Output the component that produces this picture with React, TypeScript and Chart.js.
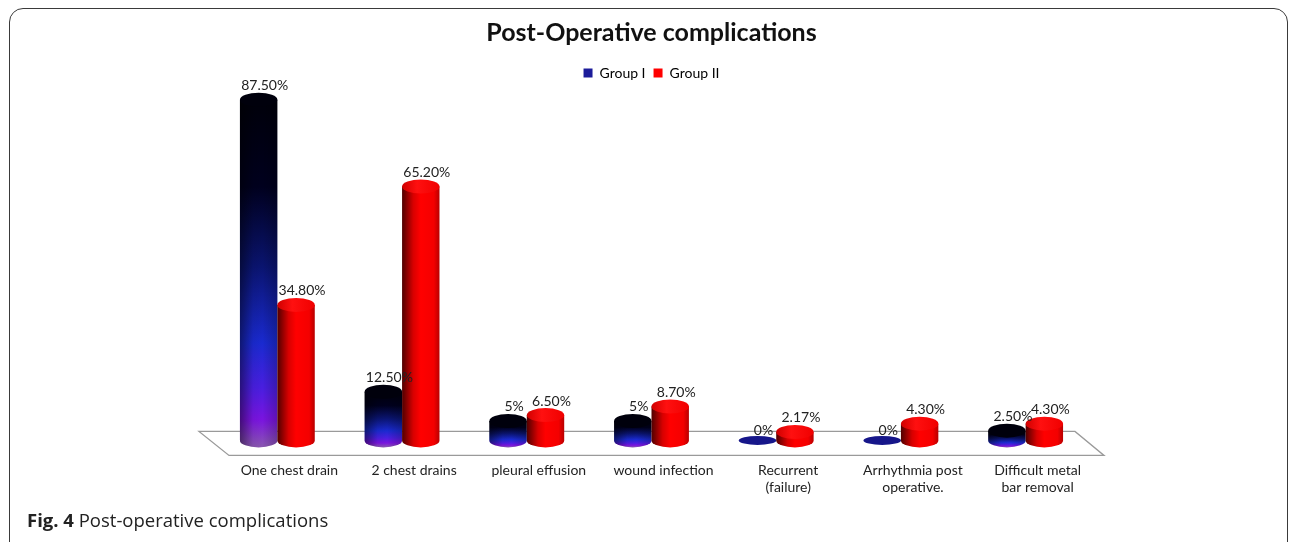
import React, { useEffect, useRef } from 'react';
import { Chart, registerables } from 'chart.js';

Chart.register(...registerables);

const categories: (string | string[])[] = [
  'One chest drain',
  '2 chest drains',
  'pleural effusion',
  'wound infection',
  ['Recurrent', '(failure)'],
  ['Arrhythmia post', 'operative.'],
  ['Difficult metal', 'bar removal'],
];
const groupI = [87.5, 12.5, 5, 5, 0, 0, 2.5];
const groupII = [34.8, 65.2, 6.5, 8.7, 2.17, 4.3, 4.3];
const groupILabels = ['87.50%', '12.50%', '5%', '5%', '0%', '0%', '2.50%'];
const groupIILabels = ['34.80%', '65.20%', '6.50%', '8.70%', '2.17%', '4.30%', '4.30%'];
const seriesNames = ['Group I', 'Group II'];

const FONT = 'Lato, "Open Sans", sans-serif';

function drawCylinder(ctx: CanvasRenderingContext2D, x: number, top: number, base: number, w: number, series: number) {
  const rx = w / 2;
  const ry = 7;
  const left = x - rx;
  const right = x + rx;
  if (base - top < 0.5) {
    ctx.save();
    ctx.beginPath();
    ctx.ellipse(x, base, rx, 4.5, 0, 0, Math.PI * 2);
    ctx.fillStyle = series === 0 ? '#16168a' : '#e00000';
    ctx.fill();
    ctx.restore();
    return;
  }
  ctx.save();
  ctx.beginPath();
  ctx.moveTo(left, top);
  ctx.lineTo(left, base);
  ctx.ellipse(x, base, rx, ry, 0, Math.PI, 0, true);
  ctx.lineTo(right, top);
  ctx.closePath();
  if (series === 0) {
    const g = ctx.createLinearGradient(0, top, 0, base + ry);
    g.addColorStop(0, '#00000a');
    g.addColorStop(0.25, '#00001e');
    g.addColorStop(0.48, '#0a1470');
    g.addColorStop(0.7, '#1a2ad0');
    g.addColorStop(0.83, '#4a1ee0');
    g.addColorStop(0.92, '#7a14e0');
    g.addColorStop(1, '#8a58b0');
    ctx.fillStyle = g;
    ctx.fill();
    const h = ctx.createLinearGradient(left, 0, right, 0);
    h.addColorStop(0, 'rgba(0,0,0,0.45)');
    h.addColorStop(0.35, 'rgba(0,0,0,0.05)');
    h.addColorStop(0.6, 'rgba(0,0,0,0)');
    h.addColorStop(1, 'rgba(0,0,0,0.2)');
    ctx.fillStyle = h;
    ctx.fill();
  } else {
    const h = ctx.createLinearGradient(left, 0, right, 0);
    h.addColorStop(0, '#500000');
    h.addColorStop(0.3, '#d80000');
    h.addColorStop(0.5, '#ff0000');
    h.addColorStop(0.85, '#f40000');
    h.addColorStop(1, '#b80000');
    ctx.fillStyle = h;
    ctx.fill();
  }
  ctx.beginPath();
  ctx.ellipse(x, top, rx, ry, 0, 0, Math.PI * 2);
  if (series === 0) {
    ctx.fillStyle = '#00000c';
  } else {
    const t = ctx.createLinearGradient(left, 0, right, 0);
    t.addColorStop(0, '#d00000');
    t.addColorStop(0.4, '#ff1010');
    t.addColorStop(1, '#f00000');
    ctx.fillStyle = t;
  }
  ctx.fill();
  ctx.restore();
}

const cylinderPlugin = {
  id: 'cylinders',
  beforeDatasetsDraw(chart: any) {
    const ctx: CanvasRenderingContext2D = chart.ctx;
    const { left, right } = chart.chartArea;
    const y0 = chart.scales.y.getPixelForValue(0);
    ctx.save();
    ctx.beginPath();
    ctx.moveTo(left - 16, y0 - 9);
    ctx.lineTo(right - 13, y0 - 9);
    ctx.lineTo(right + 16, y0 + 15);
    ctx.lineTo(left + 14, y0 + 15);
    ctx.closePath();
    ctx.strokeStyle = '#9a9a9a';
    ctx.lineWidth = 1.3;
    ctx.stroke();
    ctx.restore();
  },
  afterDatasetsDraw(chart: any) {
    const ctx: CanvasRenderingContext2D = chart.ctx;
    const allLabels = [groupILabels, groupIILabels];
    chart.data.datasets.forEach((_ds: any, di: number) => {
      const meta = chart.getDatasetMeta(di);
      meta.data.forEach((el: any) => {
        const p = el.getProps(['x', 'y', 'base', 'width'], true);
        drawCylinder(ctx, p.x, p.y, p.base, p.width, di);
      });
    });
    ctx.save();
    ctx.font = `14px ${FONT}`;
    ctx.fillStyle = '#222';
    ctx.textAlign = 'center';
    ctx.textBaseline = 'bottom';
    chart.data.datasets.forEach((_ds: any, di: number) => {
      const meta = chart.getDatasetMeta(di);
      meta.data.forEach((el: any, i: number) => {
        const p = el.getProps(['x', 'y', 'base'], true);
        const zero = p.base - p.y < 0.5;
        ctx.fillText(allLabels[di][i], p.x + 6, p.y - (zero ? 3 : 7));
      });
    });
    ctx.restore();
  },
};

export default function App() {
  const ref = useRef<HTMLCanvasElement | null>(null);
  useEffect(() => {
    if (!ref.current) return;
    const chart = new Chart(ref.current, {
      type: 'bar',
      data: {
        labels: categories as any,
        datasets: [
          {
            label: seriesNames[0],
            data: groupI,
            backgroundColor: 'rgba(0,0,0,0)',
            borderWidth: 0,
            categoryPercentage: 0.6,
            barPercentage: 1.0,
          },
          {
            label: seriesNames[1],
            data: groupII,
            backgroundColor: 'rgba(0,0,0,0)',
            borderWidth: 0,
            categoryPercentage: 0.6,
            barPercentage: 1.0,
          },
        ],
      },
      options: {
        animation: false,
        responsive: false,
        events: [],
        layout: { padding: { left: 215, right: 204, top: 8, bottom: 4 } },
        plugins: {
          tooltip: { enabled: false },
          title: {
            display: true,
            text: 'Post-Operative complications',
            color: '#111',
            font: { family: FONT, size: 25, weight: 'bold' },
            padding: { top: 10, bottom: 10 },
          },
          legend: {
            display: true,
            labels: {
              color: '#222',
              font: { family: FONT, size: 14 },
              boxWidth: 9,
              boxHeight: 9,
              padding: 8,
              generateLabels: () => [
                { text: seriesNames[0], fillStyle: '#1c1c9a', strokeStyle: 'rgba(0,0,0,0)', lineWidth: 0, hidden: false, datasetIndex: 0 },
                { text: seriesNames[1], fillStyle: '#ff0000', strokeStyle: 'rgba(0,0,0,0)', lineWidth: 0, hidden: false, datasetIndex: 1 },
              ],
            },
          },
        },
        scales: {
          x: {
            grid: { display: false, drawTicks: false },
            border: { display: false },
            ticks: {
              color: '#222',
              font: { family: FONT, size: 14 },
              padding: 22,
              labelOffset: 12,
              maxRotation: 0,
              autoSkip: false,
            },
          },
          y: {
            display: false,
            min: 0,
            max: 90,
          },
        },
      },
      plugins: [cylinderPlugin],
    });
    return () => chart.destroy();
  }, []);

  return (
    <div style={{ position: 'absolute', left: 0, top: 0, width: 1292, height: 542, overflow: 'hidden', background: '#fff' }}>
      <div
        style={{
          position: 'absolute',
          left: 9,
          top: 8,
          width: 1279,
          height: 600,
          border: '1.5px solid #3a3a3a',
          borderRadius: 14,
          boxSizing: 'border-box',
        }}
      />
      <canvas ref={ref} width={1292} height={522} style={{ position: 'absolute', left: 0, top: 0, width: 1292, height: 522 }} />
      <div
        style={{
          position: 'absolute',
          left: 27,
          top: 507,
          fontFamily: '"Open Sans", sans-serif',
          fontSize: 18.5,
          color: '#222',
          whiteSpace: 'nowrap',
        }}
      >
        <b>Fig. 4</b> Post-operative complications
      </div>
    </div>
  );
}
